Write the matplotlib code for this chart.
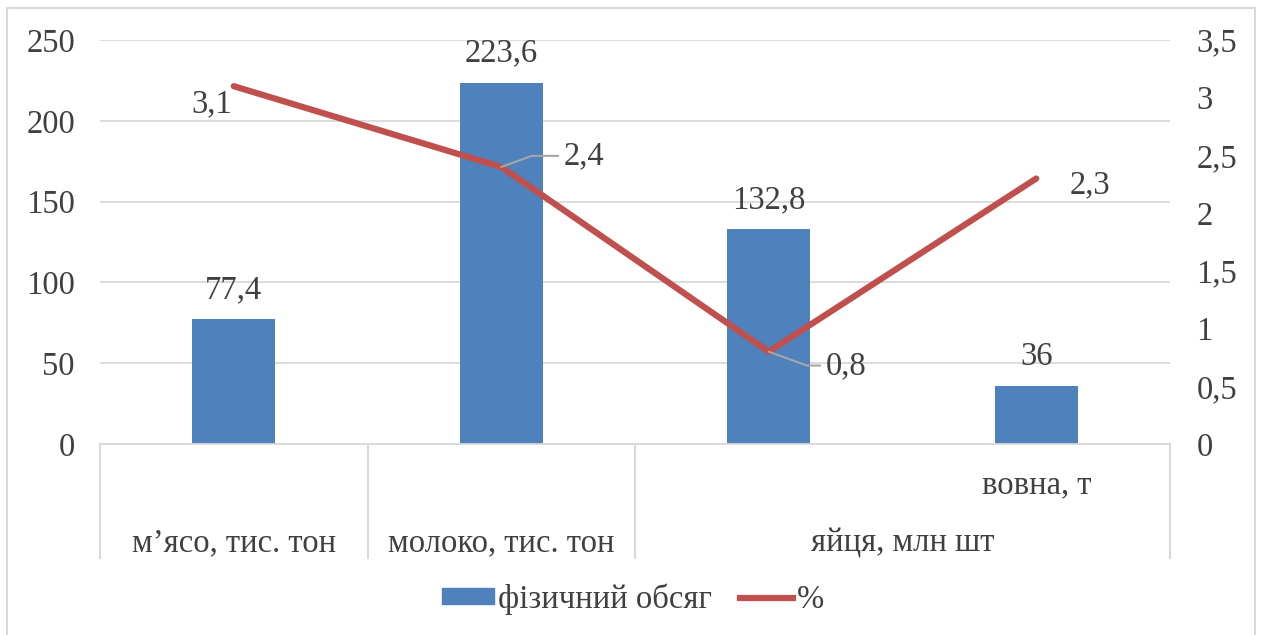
import matplotlib
matplotlib.use("Agg")
import matplotlib.pyplot as plt
from matplotlib.patches import Rectangle, Patch
from matplotlib.lines import Line2D

# data
categories = ["м’ясо, тис. тон", "молоко, тис. тон", "яйця, млн шт", "вовна, т"]
volume = [77.4, 223.6, 132.8, 36]
percent = [3.1, 2.4, 0.8, 2.3]
volume_labels = ["77,4", "223,6", "132,8", "36"]
percent_labels = ["3,1", "2,4", "0,8", "2,3"]
left_ticks = [0, 50, 100, 150, 200, 250]
right_ticks = [0, 0.5, 1, 1.5, 2, 2.5, 3, 3.5]
right_tick_labels = ["0", "0,5", "1", "1,5", "2", "2,5", "3", "3,5"]

BLUE = "#4F81BD"
RED = "#C0504D"
GRID = "#D9D9D9"
TXT = "#404040"
FS = 23.5

plt.rcParams["font.family"] = ["Liberation Serif", "DejaVu Serif"]

W, H = 1261, 635
fig = plt.figure(figsize=(W / 100, H / 100), dpi=100)

# outer chart border
fig.patches.append(Rectangle((7 / W, -0.01), 1248 / W, 1 - 8 / H + 0.01,
                             transform=fig.transFigure, fill=False,
                             edgecolor=GRID, linewidth=1.5))

x0, x1, ytop, ybot = 100, 1170, 40, 444
ax = fig.add_axes([x0 / W, 1 - ybot / H, (x1 - x0) / W, (ybot - ytop) / H])
ax2 = ax.twinx()

xs = list(range(len(categories)))
ax.bar(xs, volume, width=0.31, color=BLUE, zorder=2)
ax.set_xlim(-0.5, len(categories) - 0.5)
ax.set_ylim(0, 250)
ax.set_yticks(left_ticks)
ax.set_yticklabels([str(t) for t in left_ticks])
ax.grid(axis="y", color=GRID, linewidth=1.3, zorder=0)
ax.set_axisbelow(True)
ax.set_xticks([])
for s in ["top", "right", "left"]:
    ax.spines[s].set_visible(False)
ax.spines["bottom"].set_color(GRID)
ax.spines["bottom"].set_linewidth(1.3)
ax.tick_params(axis="y", length=0, labelsize=FS, labelcolor=TXT, pad=18)

for x, v, lab in zip(xs, volume, volume_labels):
    ax.annotate(lab, xy=(x, v), xytext=(0, 21), textcoords="offset points",
                ha="center", va="center", fontsize=FS, color=TXT)

ax2.plot(xs, percent, color=RED, linewidth=4.5, solid_capstyle="round", zorder=3)
ax2.set_ylim(0, 3.5)
ax2.set_yticks(right_ticks)
ax2.set_yticklabels(right_tick_labels)
for s in ["top", "right", "left", "bottom"]:
    ax2.spines[s].set_visible(False)
ax2.tick_params(axis="y", length=0, labelsize=FS, labelcolor=TXT, pad=19)

# percent labels (some with leader lines)
ax2.annotate(percent_labels[0], xy=(xs[0], percent[0]), xytext=(-1, -13),
             textcoords="offset points", ha="right", va="center", fontsize=FS, color=TXT)
ax2.annotate(percent_labels[1], xy=(xs[1], percent[1]), xytext=(45, 8),
             textcoords="offset points", ha="left", va="center", fontsize=FS, color=TXT,
             arrowprops=dict(arrowstyle="-", color="#A6A6A6", lw=1.5, shrinkA=2, shrinkB=0,
                             connectionstyle="angle,angleA=0,angleB=20,rad=0"))
ax2.annotate(percent_labels[2], xy=(xs[2], percent[2]), xytext=(41, -10),
             textcoords="offset points", ha="left", va="center", fontsize=FS, color=TXT,
             arrowprops=dict(arrowstyle="-", color="#A6A6A6", lw=1.5, shrinkA=2, shrinkB=0,
                             connectionstyle="angle,angleA=0,angleB=-20,rad=0"))
ax2.annotate(percent_labels[3], xy=(xs[3], percent[3]), xytext=(24, -5),
             textcoords="offset points", ha="left", va="center", fontsize=FS, color=TXT)

# multi-level category axis: separators and labels below the plot
trans = ax.get_xaxis_transform()
for xb in [-0.5, 0.5, 1.5, 3.5]:
    ax.plot([xb, xb], [0, -(558 - ybot) / (ybot - ytop)], color=GRID, lw=1.5,
            transform=trans, clip_on=False)
label_y = -(543 - ybot) / (ybot - ytop)
ax.text(0, label_y, categories[0], transform=trans, ha="center", va="center",
        fontsize=FS, color=TXT)
ax.text(1, label_y, categories[1], transform=trans, ha="center", va="center",
        fontsize=FS, color=TXT)
ax.text(2.5, label_y, categories[2], transform=trans, ha="center", va="center",
        fontsize=FS, color=TXT)
ax.text(3, -(485 - ybot) / (ybot - ytop), categories[3], transform=trans, ha="center",
        va="center", fontsize=FS, color=TXT)

handles = [Patch(facecolor=BLUE, edgecolor=BLUE),
           Line2D([0], [0], color=RED, linewidth=4.5)]
fig.legend(handles, ["фізичний обсяг", "%"], loc="center", bbox_to_anchor=(633 / W, 1 - 599 / H),
           ncol=2, frameon=False, fontsize=FS, labelcolor=TXT, handlelength=1.6,
           handleheight=0.4, handletextpad=0.12, columnspacing=0.86)

fig.savefig("out.png", dpi=100)
